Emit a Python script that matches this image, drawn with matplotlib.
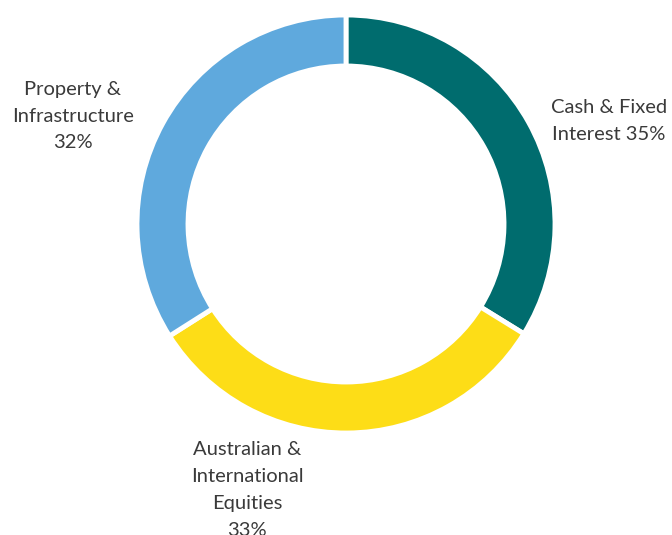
import matplotlib.pyplot as plt

labels = ["Cash & Fixed\nInterest 35%", "Australian &\nInternational\nEquities\n33%", "Property &\nInfrastructure\n32%"]
# arc sizes as drawn in the picture (slightly off the printed percentages)
values = [33.8, 32.2, 34.0]
colors = ["#006c6e", "#fddd17", "#5fa9dd"]

W, H = 672, 535
fig = plt.figure(figsize=(W / 100, H / 100), dpi=100)
ax = fig.add_axes([0, 0, 1, 1])

cx, cy, r = 346, H - 224, 209
ax.pie(values, colors=colors, startangle=90, counterclock=False,
       center=(cx, cy), radius=r, frame=True,
       wedgeprops=dict(width=51, edgecolor="white", linewidth=3.5))
ax.set_xlim(0, W)
ax.set_ylim(0, H)
ax.set_aspect("equal")
ax.axis("off")

font = dict(family=["Lato", "DejaVu Sans"], fontsize=14.5,
            color="#3a3a3a", ha="center", va="center", linespacing=1.7)
ax.text(609, H - 121, labels[0], **font)
ax.text(247, H - 490, labels[1], **font)
ax.text(73, H - 116, labels[2], **font)

fig.savefig("out.png", dpi=100)
